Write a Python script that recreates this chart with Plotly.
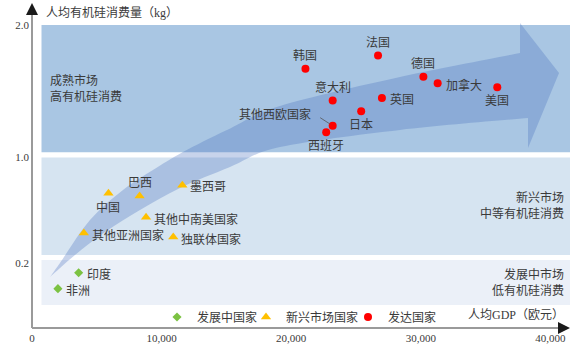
import plotly.graph_objects as go

# ---------------- data ----------------
developed_names = ["韩国", "法国", "德国", "加拿大", "美国", "意大利", "英国", "日本", "其他西欧国家", "西班牙"]
developed_gdp = [21100, 26700, 30200, 31300, 35900, 23200, 27000, 25400, 23200, 22700]
developed_kg = [1.67, 1.77, 1.61, 1.56, 1.53, 1.43, 1.45, 1.35, 1.24, 1.19]

emerging_names = ["中国", "巴西", "墨西哥", "其他中南美国家", "其他亚洲国家", "独联体国家"]
emerging_gdp = [5900, 8300, 11600, 8800, 4000, 10900]
emerging_kg = [0.73, 0.71, 0.79, 0.55, 0.43, 0.40]

developing_names = ["印度", "非洲"]
developing_gdp = [3600, 2000]
developing_kg = [0.13, 0.01]

x_tick_vals = [0, 10000, 20000, 30000, 40000]
x_tick_text = ["0", "10,000", "20,000", "30,000", "40,000"]
y_tick_vals = [2.0, 1.0, 0.2]
y_tick_text = ["2.0", "1.0", "0.2"]

# where each country label sits relative to its marker
developed_label_pos = ["top", "top", "top", "right", "bottom", "top", "right", "bottom", "left", "bottom"]
emerging_label_pos = ["bottom", "top", "right", "right", "right", "right"]
developing_label_pos = ["right", "right"]

# ---------------- style ----------------
FONT = "Liberation Serif, Noto Sans CJK SC, serif"
TEXT = "#3a3a3a"
AXIS_GREY = "#9a9a9a"

X_MIN, X_MAX = -154, 41898
Y_MIN, Y_MAX = -0.302, 2.189
AXIS_Y = -0.287          # level of the horizontal axis line
X_END = 41512            # end of horizontal axis arrow
Y_END = 2.166            # end of vertical axis arrow

PLOT_L, PLOT_W, PLOT_H = 30, 545, 330


def px_to_paper_x(px):
    return (px - PLOT_L) / PLOT_W


def px_to_paper_y(py):
    return (PLOT_H - py) / PLOT_H


LABEL_OFFSETS = {
    "top": dict(xanchor="center", yanchor="middle", xshift=0, yshift=13),
    "bottom": dict(xanchor="center", yanchor="middle", xshift=0, yshift=-14),
    "right": dict(xanchor="left", yanchor="middle", xshift=6, yshift=-2),
    "left": dict(xanchor="right", yanchor="middle", xshift=-20, yshift=11),
}

fig = go.Figure()

# ---------------- market bands ----------------
band_x0, band_x1 = 733, X_END
bands = [
    (1.04, 2.0, "#a9c6e3"),
    (0.265, 1.0, "#d6e4f1"),
    (-0.113, 0.226, "#ebf0f8"),
]
for y0, y1, col in bands:
    fig.add_shape(type="rect", xref="x", yref="y", x0=band_x0, x1=band_x1, y0=y0, y1=y1,
                  fillcolor=col, line=dict(width=0), layer="below")


# ---------------- growth arrow ----------------
def catmull_rom(points):
    """Smooth cubic path segments through the given points."""
    segs = []
    n = len(points)
    for i in range(n - 1):
        p0 = points[i - 1] if i > 0 else points[i]
        p1 = points[i]
        p2 = points[i + 1]
        p3 = points[i + 2] if i + 2 < n else points[i + 1]
        c1 = (p1[0] + (p2[0] - p0[0]) / 6, p1[1] + (p2[1] - p0[1]) / 6)
        c2 = (p2[0] - (p3[0] - p1[0]) / 6, p2[1] - (p3[1] - p1[1]) / 6)
        segs.append(f"C {c1[0]:.1f},{c1[1]:.4f} {c2[0]:.1f},{c2[1]:.4f} {p2[0]:.1f},{p2[1]:.4f}")
    return " ".join(segs)


upper_edge = [(1389, 0.098), (2160, 0.204), (4475, 0.528), (7022, 0.755), (9336, 0.906),
              (11651, 1.042), (15046, 1.208), (19136, 1.389), (28395, 1.608), (37654, 1.789)]
head = [(37654, 2.015), (40664, 1.638), (38272, 1.072), (38272, 1.298)]
lower_edge = [(38272, 1.298), (28395, 1.208), (19136, 1.079), (15278, 0.928), (11420, 0.770),
              (8333, 0.604), (5633, 0.438), (3318, 0.264), (1389, 0.098)]

path = f"M {upper_edge[0][0]},{upper_edge[0][1]} " + catmull_rom(upper_edge)
path += " " + " ".join(f"L {x},{y}" for x, y in head)
path += " " + catmull_rom(lower_edge) + " Z"
fig.add_shape(type="path", xref="x", yref="y", path=path,
              fillcolor="rgba(70,110,190,0.30)", line=dict(width=0), layer="below")

# ---------------- axes with arrowheads ----------------
fig.add_shape(type="line", xref="x", yref="y", x0=0, x1=0, y0=AXIS_Y, y1=Y_END - 0.03,
              line=dict(color=AXIS_GREY, width=2), layer="above")
fig.add_shape(type="line", xref="x", yref="y", x0=0, x1=X_END - 300, y0=AXIS_Y, y1=AXIS_Y,
              line=dict(color=AXIS_GREY, width=2), layer="above")
fig.add_annotation(x=0, y=Y_END, xref="x", yref="y", ax=0, ay=11, text="", showarrow=True,
                   arrowhead=2, arrowsize=1.2, arrowwidth=2, arrowcolor="#1a1a1a", standoff=0)
fig.add_annotation(x=X_END, y=AXIS_Y, xref="x", yref="y", ax=-11, ay=0, text="", showarrow=True,
                   arrowhead=2, arrowsize=1.2, arrowwidth=2, arrowcolor="#1a1a1a", standoff=0)

# ---------------- country groups ----------------
groups = [
    ("发展中国家", "legend", 157, developing_names, developing_gdp, developing_kg, developing_label_pos,
     dict(symbol="diamond", size=7, color="#7cc242")),
    ("新兴市场国家", "legend2", 246, emerging_names, emerging_gdp, emerging_kg, emerging_label_pos,
     dict(symbol="triangle-up", size=9, color="#ffc000")),
    ("发达国家", "legend3", 348, developed_names, developed_gdp, developed_kg, developed_label_pos,
     dict(symbol="circle", size=8, color="#ff0000")),
]

legend_layouts = {}
for legend_name, legend_id, legend_px, names, gdp, kg, label_pos, marker in groups:
    fig.add_trace(go.Scatter(x=gdp, y=kg, mode="markers", name=legend_name, legend=legend_id,
                             marker=dict(line=dict(width=0), **marker),
                             text=names, hovertemplate="%{text}<br>%{x:,}<br>%{y} kg<extra></extra>"))
    legend_layouts[legend_id] = dict(
        orientation="h", x=px_to_paper_x(legend_px), y=px_to_paper_y(317),
        xanchor="left", yanchor="middle", bgcolor="rgba(0,0,0,0)",
        font=dict(family=FONT, size=12, color=TEXT), itemwidth=30)
    for name, gx, ky, pos in zip(names, gdp, kg, label_pos):
        fig.add_annotation(x=gx, y=ky, xref="x", yref="y", text=name, showarrow=False,
                           font=dict(family=FONT, size=12, color=TEXT), **LABEL_OFFSETS[pos])
        if pos == "left":
            # short leader line from the label down to its marker
            fig.add_annotation(x=gx, y=ky, xref="x", yref="y", text="", showarrow=True,
                               arrowhead=0, arrowwidth=0.8, arrowcolor="#555555",
                               ax=-14, ay=-9, standoff=3)

# ---------------- band descriptions & axis titles ----------------
label_font = dict(family=FONT, size=12, color=TEXT)
fig.add_annotation(x=px_to_paper_x(48), y=px_to_paper_y(89), xref="paper", yref="paper",
                   text="成熟市场<br>高有机硅消费", showarrow=False, align="left",
                   xanchor="left", yanchor="middle", font=label_font)
fig.add_annotation(x=px_to_paper_x(566), y=px_to_paper_y(205), xref="paper", yref="paper",
                   text="新兴市场<br>中等有机硅消费", showarrow=False, align="right",
                   xanchor="right", yanchor="middle", font=label_font)
fig.add_annotation(x=px_to_paper_x(566), y=px_to_paper_y(282), xref="paper", yref="paper",
                   text="发展中市场<br>低有机硅消费", showarrow=False, align="right",
                   xanchor="right", yanchor="middle", font=label_font)
fig.add_annotation(x=px_to_paper_x(44), y=px_to_paper_y(13), xref="paper", yref="paper",
                   text="人均有机硅消费量（kg）", showarrow=False,
                   xanchor="left", yanchor="middle", font=label_font)
fig.add_annotation(x=px_to_paper_x(566), y=px_to_paper_y(315), xref="paper", yref="paper",
                   text="人均GDP（欧元）", showarrow=False,
                   xanchor="right", yanchor="middle", font=label_font)

# ---------------- layout ----------------
fig.update_layout(
    width=575, height=347,
    margin=dict(l=PLOT_L, r=575 - PLOT_L - PLOT_W, t=0, b=347 - PLOT_H),
    paper_bgcolor="white", plot_bgcolor="white",
    font=dict(family=FONT, size=12, color=TEXT),
    showlegend=True,
    xaxis=dict(range=[X_MIN, X_MAX], tickvals=x_tick_vals, ticktext=x_tick_text,
               showgrid=False, zeroline=False, showline=False, ticks="",
               tickfont=dict(family=FONT, size=11, color=TEXT)),
    yaxis=dict(range=[Y_MIN, Y_MAX], tickvals=y_tick_vals, ticktext=y_tick_text,
               showgrid=False, zeroline=False, showline=False, ticks="",
               tickfont=dict(family=FONT, size=11, color=TEXT)),
    **legend_layouts,
)

fig.write_html("out.html")
